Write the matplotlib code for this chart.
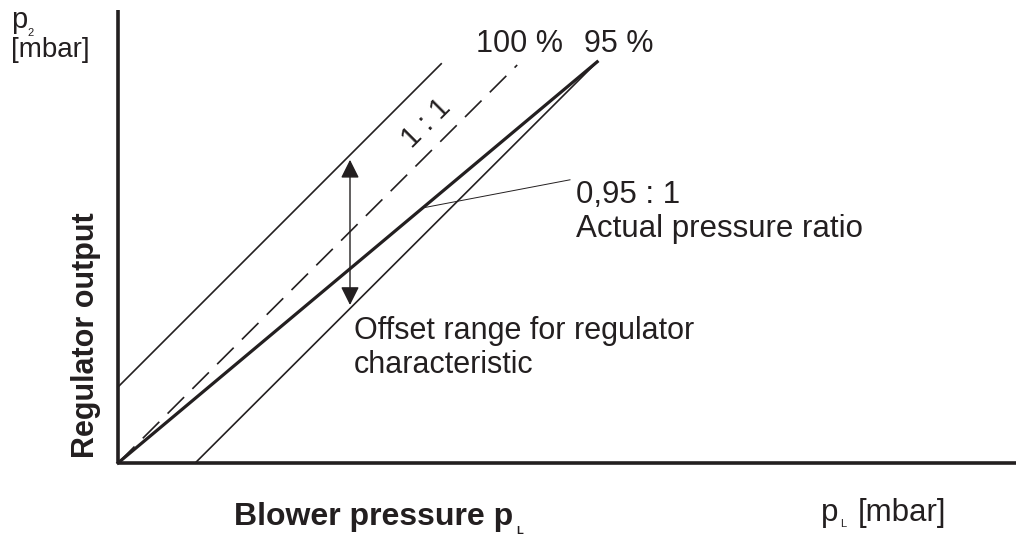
import matplotlib.pyplot as plt

plt.rcParams['font.family'] = ['Liberation Sans', 'DejaVu Sans']

# ==============================
# Data (diagram units, 1 unit = 1 grid step)
# ==============================
ink = '#231f20'

# straight lines of the diagram: (x0, x1), (y0, y1)
upper_line = ([0.0, 8.08], [1.9, 9.98])        # 100 % offset limit
ratio_1_1 = ([0.0, 9.98], [0.0, 9.95])         # dashed 1 : 1
actual_ratio = ([0.0, 11.98], [0.0, 10.03])    # 0,95 : 1 (thick)
lower_line = ([1.93, 11.98], [0.0, 10.03])     # lower offset limit

offset_arrow_x = 5.8
offset_arrow_y = [3.95, 7.58]

leader_x = [7.63, 11.3]
leader_y = [6.38, 7.08]

x_axis_end = 22.45
y_axis_end = 11.33

# ==============================
# Figure
# ==============================
fig = plt.figure(figsize=(10.16, 5.39), dpi=100)
ax = fig.add_axes([0, 0, 1, 1])
ax.set_xlim(-2.95, 22.45)
ax.set_ylim(-1.9, 11.575)
ax.axis('off')

# axes
ax.plot([0, 0], [0, y_axis_end], color=ink, lw=2.6, solid_capstyle='butt')
ax.plot([0, x_axis_end], [0, 0], color=ink, lw=2.6, solid_capstyle='butt')

# characteristic lines
ax.plot(*upper_line, color=ink, lw=1.2)
ax.plot(*ratio_1_1, color=ink, lw=1.2, dashes=(14, 7))
ax.plot(*actual_ratio, color=ink, lw=2.3)
ax.plot(*lower_line, color=ink, lw=1.2)

# offset double arrow
ax.annotate('', xy=(offset_arrow_x, offset_arrow_y[1]),
            xytext=(offset_arrow_x, offset_arrow_y[0]),
            arrowprops=dict(arrowstyle='<|-|>', color=ink, lw=1.0,
                            mutation_scale=28, shrinkA=0, shrinkB=0))

# leader line to label
ax.plot(leader_x, leader_y, color=ink, lw=0.7)

# ==============================
# Texts
# ==============================
fs = 22.5
ax.text(8.95, 10.275, '100 %', fontsize=22, color=ink, va='baseline', ha='left')
ax.text(11.65, 10.275, '95 %', fontsize=22, color=ink, va='baseline', ha='left')
ax.text(7.7, 8.5, '1 : 1', fontsize=21, color=ink, va='center', ha='center',
        rotation=45)
ax.text(11.45, 6.5, '0,95 : 1', fontsize=fs, color=ink, va='baseline', ha='left')
ax.text(11.45, 5.65, 'Actual pressure ratio', fontsize=fs, color=ink,
        va='baseline', ha='left')
ax.text(5.9, 3.1, 'Offset range for regulator', fontsize=22, color=ink,
        va='baseline', ha='left')
ax.text(5.9, 2.25, 'characteristic', fontsize=22, color=ink,
        va='baseline', ha='left')

# y axis label
ax.text(-2.67, 10.875, 'p', fontsize=21, color=ink, va='baseline', ha='left')
ax.text(-2.26, 10.675, '2', fontsize=8, color=ink, va='baseline', ha='left')
ax.text(-2.67, 10.15, '[mbar]', fontsize=20, color=ink, va='baseline', ha='left')
ax.text(-0.8, 3.2, 'Regulator output', fontsize=22, color=ink,
        fontweight='bold', rotation=90, va='center', ha='center')

# x axis label
ax.text(2.9, -1.55, 'Blower pressure p', fontsize=23, color=ink,
        fontweight='bold', va='baseline', ha='left')
ax.text(9.95, -1.77, 'L', fontsize=8, color=ink, fontweight='bold',
        va='baseline', ha='left')
ax.text(17.58, -1.45, 'p', fontsize=fs, color=ink, va='baseline', ha='left')
ax.text(18.05, -1.6, 'L', fontsize=8, color=ink, va='baseline', ha='left')
ax.text(18.5, -1.45, '[mbar]', fontsize=fs, color=ink, va='baseline', ha='left')

plt.savefig('out.png', dpi=100)
plt.close()
